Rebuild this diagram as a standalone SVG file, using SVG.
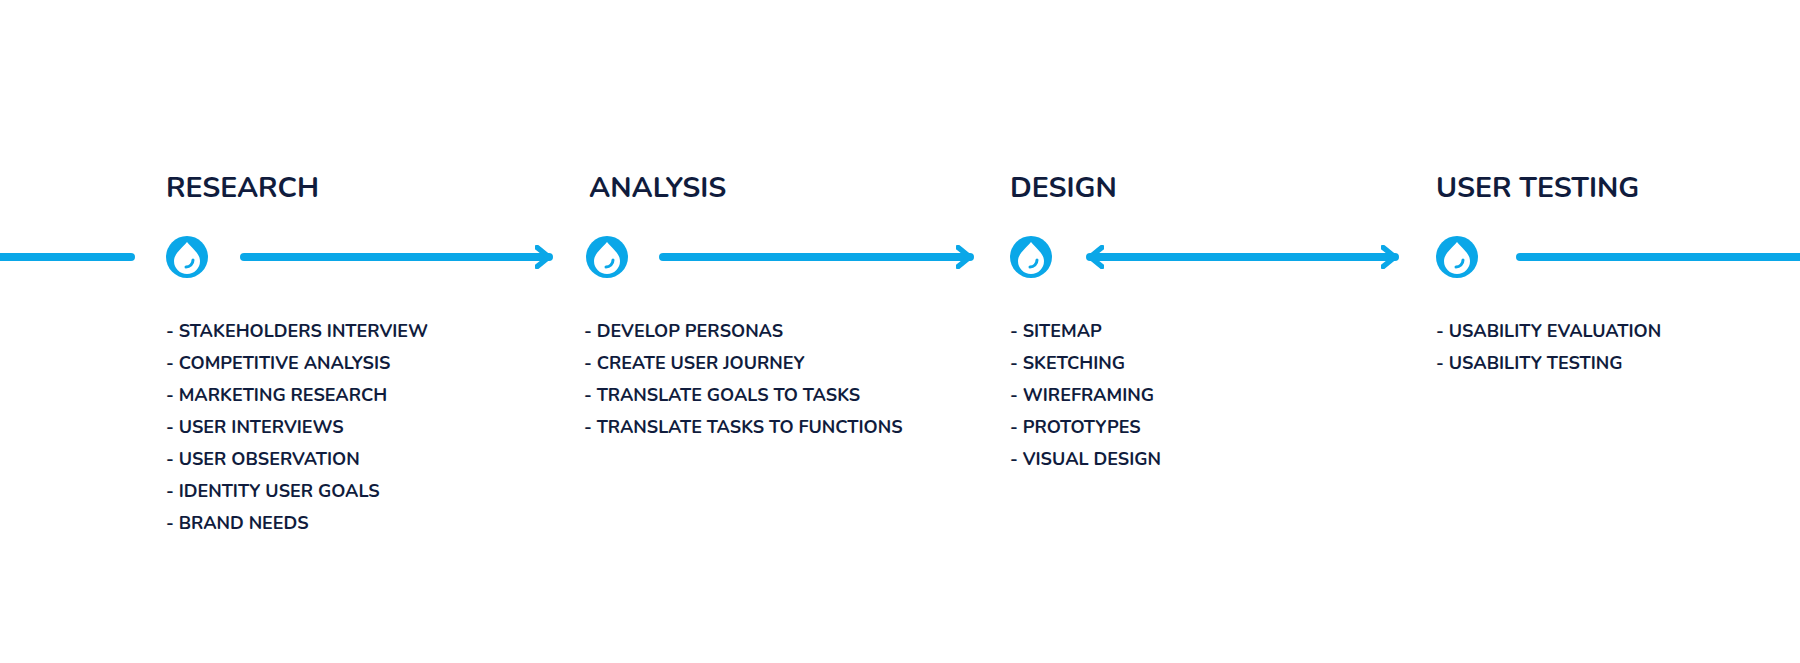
<svg xmlns="http://www.w3.org/2000/svg" width="1800" height="663" viewBox="0 0 1800 663">
<defs>
<style>
.t{font-family:"Nunito","Lato","Liberation Sans",sans-serif;font-weight:700;fill:#101c3d}
.h{font-size:28.5px}
.i{font-size:18px}
.ln{stroke:#0aa7e8;stroke-width:8;stroke-linecap:round;fill:none}
</style>
<marker id="ah" viewBox="0 0 10 10" refX="6" refY="5" markerWidth="3" markerHeight="3" orient="auto-start-reverse">
<path d="M1,1 L6,5 L1,9" fill="none" stroke="#0aa7e8" stroke-width="2.2" stroke-linecap="round" stroke-linejoin="round"/>
</marker>
<g id="icon">
<circle r="21" fill="#0aa7e8"/>
<path d="M0,-15 C6,-8 13,-3 13,4 A13,13 0 0 1 -13,4 C-13,-3 -6,-8 0,-15 Z" fill="#fff"/>
<path d="M6,3 A7,7 0 0 1 -1,10" stroke="#0aa7e8" stroke-width="3" fill="none" stroke-linecap="round"/>
</g>
</defs>
<rect width="1800" height="663" fill="#fff"/>
<g id="connectors">
<line class="ln" x1="-5" y1="257" x2="131" y2="257"/>
<line class="ln" x1="244" y1="257" x2="549" y2="257" marker-end="url(#ah)"/>
<line class="ln" x1="663" y1="257" x2="970" y2="257" marker-end="url(#ah)"/>
<line class="ln" x1="1090" y1="257" x2="1395" y2="257" marker-start="url(#ah)" marker-end="url(#ah)"/>
<line class="ln" x1="1520" y1="257" x2="1805" y2="257"/>
</g>
<g id="research">
<text class="t h" x="166" y="197">RESEARCH</text>
<use href="#icon" x="187" y="257"/>
<text class="t i" x="166" y="337">- STAKEHOLDERS INTERVIEW</text>
<text class="t i" x="166" y="369">- COMPETITIVE ANALYSIS</text>
<text class="t i" x="166" y="401">- MARKETING RESEARCH</text>
<text class="t i" x="166" y="433">- USER INTERVIEWS</text>
<text class="t i" x="166" y="465">- USER OBSERVATION</text>
<text class="t i" x="166" y="497">- IDENTITY USER GOALS</text>
<text class="t i" x="166" y="529">- BRAND NEEDS</text>
</g>
<g id="analysis">
<text class="t h" x="589" y="197">ANALYSIS</text>
<use href="#icon" x="607" y="257"/>
<text class="t i" x="584" y="337">- DEVELOP PERSONAS</text>
<text class="t i" x="584" y="369">- CREATE USER JOURNEY</text>
<text class="t i" x="584" y="401">- TRANSLATE GOALS TO TASKS</text>
<text class="t i" x="584" y="433">- TRANSLATE TASKS TO FUNCTIONS</text>
</g>
<g id="design">
<text class="t h" x="1010" y="197">DESIGN</text>
<use href="#icon" x="1031" y="257"/>
<text class="t i" x="1010" y="337">- SITEMAP</text>
<text class="t i" x="1010" y="369">- SKETCHING</text>
<text class="t i" x="1010" y="401">- WIREFRAMING</text>
<text class="t i" x="1010" y="433">- PROTOTYPES</text>
<text class="t i" x="1010" y="465">- VISUAL DESIGN</text>
</g>
<g id="testing">
<text class="t h" x="1436" y="197">USER TESTING</text>
<use href="#icon" x="1457" y="257"/>
<text class="t i" x="1436" y="337">- USABILITY EVALUATION</text>
<text class="t i" x="1436" y="369">- USABILITY TESTING</text>
</g>
</svg>
